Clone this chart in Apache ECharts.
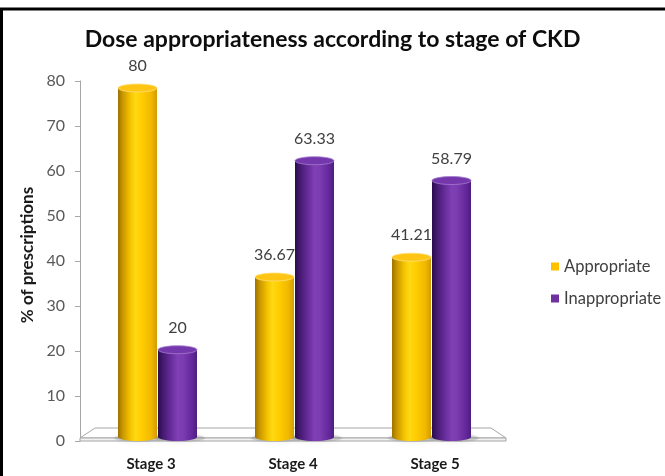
<!DOCTYPE html>
<html>
<head>
<meta charset="utf-8">
<script src="https://cdn.jsdelivr.net/npm/echarts@6/dist/echarts.min.js"></script>
<style>
  html, body { margin: 0; padding: 0; background: #fff; }
  #chart { width: 665px; height: 476px; }
</style>
</head>
<body>
<div id="chart"></div>
<script>
// CKD stage breakdown of dose appropriateness (% of prescriptions)
const stages = ['Stage 3', 'Stage 4', 'Stage 5'];
const appropriate = [80, 36.67, 41.21];
const inappropriate = [20, 63.33, 58.79];
const yTicks = { min: 0, max: 80, step: 10 };

const FONT = 'Lato, "Open Sans", "Liberation Sans", sans-serif';

const palettes = {
  Appropriate: {
    legend: '#FFC000',
    body: [
      [0, '#9C7200'], [0.12, '#C99600'], [0.32, '#F5C400'], [0.45, '#FFD814'],
      [0.6, '#FFCE00'], [0.85, '#F2B800'], [1, '#D39C00']
    ],
    top: '#FFC515', topEdge: '#FFE07A'
  },
  Inappropriate: {
    legend: '#7030A0',
    body: [
      [0, '#2A0C4C'], [0.12, '#43196F'], [0.35, '#6A2E9E'], [0.5, '#7E40B4'],
      [0.65, '#7A3CB0'], [0.88, '#62279A'], [1, '#4E1C80']
    ],
    top: '#7538AC', topEdge: '#A57BD0'
  }
};

function gradient(stops) {
  return new echarts.graphic.LinearGradient(0, 0, 1, 0,
    stops.map(s => ({ offset: s[0], color: s[1] })));
}

// cylinder renderer: one cylinder per data item, offset left/right inside its category
function cylinder(name, side) {
  const pal = palettes[name];
  return function (params, api) {
    const cat = api.value(0);
    const val = api.value(1);
    const base = api.coord([cat, 0]);
    const top = api.coord([cat, val]);
    const w = 39;
    const cx = base[0] + side * (w / 2 + 0.5);
    const ry = 4;
    const body = gradient(pal.body);
    return {
      type: 'group',
      children: [
        { // soft shadow on the floor
          type: 'ellipse',
          shape: { cx: cx + 2, cy: base[1] + 1, rx: w / 2 + 6, ry: ry },
          style: { fill: 'rgba(140,140,140,0.3)', shadowBlur: 5, shadowColor: 'rgba(0,0,0,0.25)' },
          z2: 1
        },
        {
          type: 'ellipse',
          shape: { cx: cx, cy: base[1], rx: w / 2, ry: ry },
          style: { fill: body },
          z2: 2
        },
        {
          type: 'rect',
          shape: { x: cx - w / 2, y: top[1], width: w, height: base[1] - top[1] },
          style: { fill: body },
          z2: 3
        },
        {
          type: 'ellipse',
          shape: { cx: cx, cy: top[1], rx: w / 2, ry: ry },
          style: { fill: pal.top, stroke: pal.topEdge, lineWidth: 0.8 },
          z2: 4
        },
        {
          type: 'text',
          style: {
            text: String(val), x: cx, y: top[1] - 22,
            align: 'center', verticalAlign: 'middle',
            fill: '#404040', font: '16px ' + FONT
          },
          z2: 5
        }
      ]
    };
  };
}

// 3-D floor slab drawn from the front axis extent
function floor(params, api) {
  const fl = api.coord([0, 0]);
  const bw = api.size([1, 0])[0];
  const x0 = fl[0] - bw / 2;
  const x1 = fl[0] + bw * (stages.length - 0.5);
  const y = fl[1];
  const depth = 10, slant = 15, thick = 3;
  return {
    type: 'group',
    children: [
      {
        type: 'polygon',
        shape: { points: [[x0, y - thick], [x1, y - thick], [x1 - slant, y - thick - depth], [x0 + slant, y - thick - depth]] },
        style: { fill: '#FFFFFF', stroke: '#A6A6A6', lineWidth: 1 }
      },
      {
        type: 'rect',
        shape: { x: x0, y: y - thick, width: x1 - x0, height: thick },
        style: { fill: '#F2F2F2', stroke: '#A6A6A6', lineWidth: 1 }
      }
    ]
  };
}

const chart = echarts.init(document.getElementById('chart'), null, { renderer: 'canvas' });

chart.setOption({
  backgroundColor: '#fff',
  animation: false,
  title: {
    text: 'Dose appropriateness according to stage of CKD',
    left: 'center',
    top: 23,
    textStyle: { fontFamily: FONT, fontWeight: 'bold', fontSize: 23, color: '#0D0D0D' }
  },
  legend: {
    orient: 'vertical',
    left: 546,
    top: 252,
    itemWidth: 8,
    itemHeight: 8,
    itemGap: 13,
    icon: 'rect',
    textStyle: { fontFamily: FONT, fontSize: 16.5, color: '#404040', lineHeight: 19 },
    data: [
      { name: 'Appropriate', itemStyle: { color: palettes.Appropriate.legend } },
      { name: 'Inappropriate', itemStyle: { color: palettes.Inappropriate.legend } }
    ]
  },
  graphic: [{
    type: 'rect',
    shape: { x: 1.5, y: 9, width: 700, height: 520 },
    style: { fill: 'none', stroke: '#000', lineWidth: 3 },
    silent: true, z: 100
  }],
  grid: [
    { left: 80, right: 159, top: 81, bottom: 35 },
    { left: 89, right: 165, top: 88, bottom: 39 }
  ],
  xAxis: [
    {
      gridIndex: 0, type: 'category', data: stages,
      axisLine: { show: false }, axisTick: { show: false },
      axisLabel: { margin: 16, fontFamily: FONT, fontWeight: 'bold', fontSize: 15, color: '#1A1A1A' }
    },
    {
      gridIndex: 1, type: 'category', data: stages, show: false
    }
  ],
  yAxis: [
    {
      gridIndex: 0, type: 'value', min: yTicks.min, max: yTicks.max, interval: yTicks.step,
      name: '% of prescriptions', nameLocation: 'middle', nameGap: 42,
      nameTextStyle: { fontFamily: FONT, fontWeight: 'bold', fontSize: 17, color: '#1A1A1A', padding: [0, 0, 0, 12] },
      axisLine: { show: true, lineStyle: { color: '#A6A6A6', width: 1 } },
      axisTick: { show: true, length: 5, lineStyle: { color: '#A6A6A6' } },
      axisLabel: { margin: 15, fontFamily: FONT, fontSize: 16, color: '#595959' },
      splitLine: { show: false }
    },
    {
      gridIndex: 1, type: 'value', min: yTicks.min, max: yTicks.max, show: false
    }
  ],
  series: [
    {
      name: 'floor', type: 'custom', xAxisIndex: 0, yAxisIndex: 0,
      data: [[0, 0]], renderItem: floor, silent: true, z: 1
    },
    {
      name: 'Appropriate', type: 'custom', xAxisIndex: 1, yAxisIndex: 1,
      itemStyle: { color: palettes.Appropriate.legend },
      data: appropriate.map((v, i) => [i, v]),
      encode: { x: 0, y: 1 },
      renderItem: cylinder('Appropriate', -1), z: 3
    },
    {
      name: 'Inappropriate', type: 'custom', xAxisIndex: 1, yAxisIndex: 1,
      itemStyle: { color: palettes.Inappropriate.legend },
      data: inappropriate.map((v, i) => [i, v]),
      encode: { x: 0, y: 1 },
      renderItem: cylinder('Inappropriate', 1), z: 3
    }
  ]
});
</script>
</body>
</html>
